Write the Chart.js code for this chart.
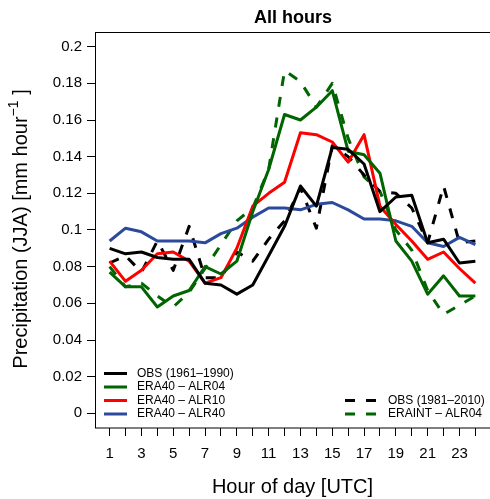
<!DOCTYPE html>
<html>
<head>
<meta charset="utf-8">
<script src="https://cdn.jsdelivr.net/npm/chart.js@4.4.1/dist/chart.umd.min.js"></script>
<style>
  body { margin: 0; background: #fff; }
  canvas { display: block; }
</style>
</head>
<body>
<canvas id="chart" width="490" height="499"></canvas>
<script>
// hour of day (UTC)
const hours = [1, 2, 3, 4, 5, 6, 7, 8, 9, 10, 11, 12, 13, 14, 15, 16, 17, 18, 19, 20, 21, 22, 23, 24];

// precipitation JJA, mm/hour
const obs6190 = [0.090, 0.087, 0.088, 0.085, 0.084, 0.084, 0.071, 0.070, 0.065, 0.070, 0.086, 0.102,
                 0.124, 0.113, 0.145, 0.144, 0.136, 0.110, 0.118, 0.119, 0.093, 0.095, 0.082, 0.083];
const era40Alr04 = [0.077, 0.069, 0.069, 0.058, 0.064, 0.067, 0.080, 0.076, 0.083, 0.110, 0.133, 0.163,
                    0.160, 0.167, 0.176, 0.143, 0.141, 0.131, 0.094, 0.083, 0.065, 0.075, 0.064, 0.064];
const era40Alr10 = [0.083, 0.072, 0.078, 0.087, 0.088, 0.083, 0.071, 0.074, 0.090, 0.113, 0.120, 0.126,
                    0.153, 0.152, 0.148, 0.137, 0.152, 0.113, 0.103, 0.094, 0.084, 0.088, 0.079, 0.071];
const era40Alr40 = [0.094, 0.101, 0.099, 0.094, 0.094, 0.094, 0.093, 0.098, 0.101, 0.107, 0.112, 0.112,
                    0.111, 0.114, 0.115, 0.111, 0.106, 0.106, 0.105, 0.102, 0.093, 0.091, 0.096, 0.092];
const obs8110 = [0.082, 0.086, 0.077, 0.094, 0.078, 0.102, 0.074, 0.074, 0.088, 0.083, 0.095, 0.105,
                 0.123, 0.101, 0.146, 0.140, 0.130, 0.121, 0.120, 0.112, 0.093, 0.124, 0.093, 0.094];
const eraintAlr04 = [0.080, 0.069, 0.071, 0.064, 0.058, 0.066, 0.079, 0.092, 0.105, 0.112, 0.133, 0.187,
                     0.181, 0.167, 0.180, 0.150, 0.129, 0.121, 0.100, 0.089, 0.067, 0.054, 0.059, 0.064];

const yTicks = [0, 0.02, 0.04, 0.06, 0.08, 0.1, 0.12, 0.14, 0.16, 0.18, 0.2];

const FONT = '"Liberation Sans", Arial, Helvetica, sans-serif';
const DASH = [10, 11];

function pts(vals) {
  return hours.map((h, i) => ({ x: h, y: vals[i] }));
}

function series(label, vals, color, dashed) {
  return {
    label: label,
    data: pts(vals),
    borderColor: color,
    backgroundColor: color,
    borderWidth: 3,
    borderDash: dashed ? DASH : [],
    borderCapStyle: 'butt',
    borderJoinStyle: 'round',
    pointRadius: 0,
    tension: 0,
    fill: false
  };
}

// title, axis titles, box and the two legends
const decor = {
  id: 'decor',
  afterDraw(chart) {
    const ctx = chart.ctx;
    const a = chart.chartArea;
    const ds = chart.data.datasets;
    ctx.save();

    ctx.strokeStyle = '#000';
    ctx.lineWidth = 1;
    ctx.setLineDash([]);
    ctx.strokeRect(a.left + 0.5, a.top + 0.5, a.right - a.left, a.bottom - a.top - 0.5);

    ctx.fillStyle = '#000';
    ctx.textAlign = 'center';
    ctx.textBaseline = 'alphabetic';
    ctx.font = 'bold 18px ' + FONT;
    ctx.fillText('All hours', (a.left + a.right) / 2 + 0.5, 23);

    ctx.font = '20px ' + FONT;
    ctx.fillText('Hour of day [UTC]', (a.left + a.right) / 2, 493);

    // y title with superscript
    ctx.save();
    ctx.translate(27, 229);
    ctx.rotate(-Math.PI / 2);
    const p1 = 'Precipitation (JJA) [mm hour';
    const sup = '\u22121';
    const p2 = ' ]';
    ctx.font = '20px ' + FONT;
    const w1 = ctx.measureText(p1).width;
    const w3 = ctx.measureText(p2).width;
    ctx.font = '14px ' + FONT;
    const w2 = ctx.measureText(sup).width;
    let x = -(w1 + w2 + w3) / 2;
    ctx.textAlign = 'left';
    ctx.font = '20px ' + FONT;
    ctx.fillText(p1, x, 0);
    ctx.font = '14px ' + FONT;
    ctx.fillText(sup, x + w1, -9);
    ctx.font = '20px ' + FONT;
    ctx.fillText(p2, x + w1 + w2, 0);
    ctx.restore();

    // legends
    ctx.font = '12px ' + FONT;
    ctx.textAlign = 'left';
    ctx.textBaseline = 'middle';
    const row = (d, x0, x1, tx, y) => {
      ctx.beginPath();
      ctx.strokeStyle = d.borderColor;
      ctx.lineWidth = 3;
      ctx.setLineDash(d.borderDash);
      ctx.moveTo(x0, y);
      ctx.lineTo(x1, y);
      ctx.stroke();
      ctx.setLineDash([]);
      ctx.fillStyle = '#000';
      ctx.fillText(d.label, tx, y);
    };
    const leftRows = [373.5, 387, 400.5, 414];
    for (let i = 0; i < 4; i++) row(ds[i], 104, 127, 137, leftRows[i]);
    row(ds[4], 345, 376, 388, 400.5);
    row(ds[5], 345, 376, 388, 414);

    ctx.restore();
  }
};

new Chart(document.getElementById('chart'), {
  type: 'line',
  data: {
    datasets: [
      series('OBS (1961\u20131990)', obs6190, '#000000', false),
      series('ERA40 \u2013 ALR04', era40Alr04, '#006400', false),
      series('ERA40 \u2013 ALR10', era40Alr10, '#ff0000', false),
      series('ERA40 \u2013 ALR40', era40Alr40, '#2b4a9b', false),
      series('OBS (1981\u20132010)', obs8110, '#000000', true),
      series('ERAINT \u2013 ALR04', eraintAlr04, '#006400', true)
    ]
  },
  options: {
    responsive: false,
    animation: false,
    layout: { padding: { top: 32, right: 0, bottom: 0, left: 0 } },
    plugins: {
      legend: { display: false },
      title: { display: false },
      tooltip: { enabled: false }
    },
    scales: {
      x: {
        type: 'linear',
        min: 0.08,
        max: 24.92,
        afterBuildTicks: (s) => { s.ticks = hours.map(h => ({ value: h })); },
        afterFit: (s) => { s.height = 71; },
        ticks: {
          autoSkip: false,
          maxRotation: 0,
          padding: 9,
          color: '#000',
          font: { family: FONT, size: 15 },
          callback: (v) => (v % 2 === 1 ? String(v) : '')
        },
        grid: { drawOnChartArea: false, drawTicks: true, tickLength: 8, tickColor: '#000', lineWidth: 1 },
        border: { display: false }
      },
      y: {
        min: -0.008,
        max: 0.208,
        afterBuildTicks: (s) => { s.ticks = yTicks.map(v => ({ value: v })); },
        afterFit: (s) => { s.width = 95; },
        ticks: {
          padding: 5,
          color: '#000',
          font: { family: FONT, size: 15 },
          callback: (v) => String(Number(v.toFixed(3)))
        },
        grid: { drawOnChartArea: false, drawTicks: true, tickLength: 8, tickColor: '#000', lineWidth: 1 },
        border: { display: false }
      }
    }
  },
  plugins: [decor]
});
</script>
</body>
</html>
